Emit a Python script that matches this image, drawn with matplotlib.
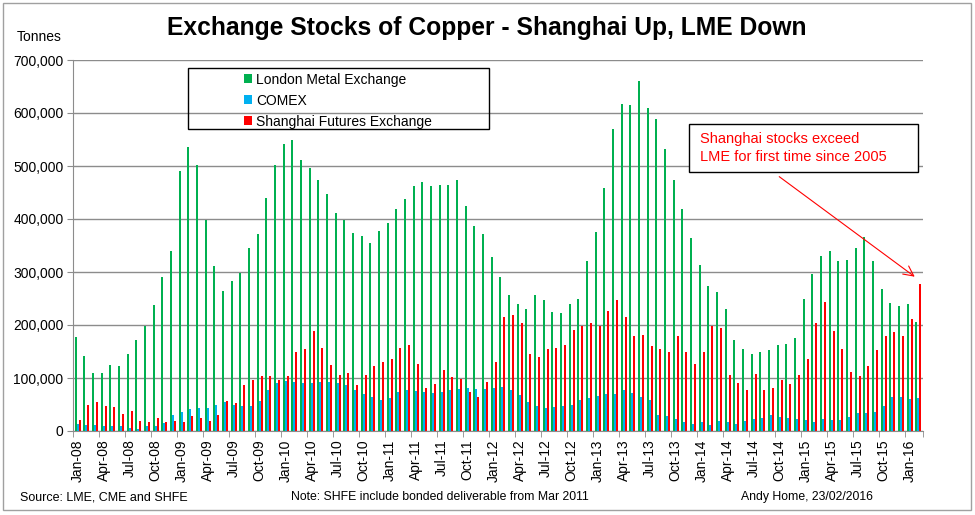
import pandas as pd
import matplotlib
matplotlib.use("Agg")
import matplotlib.pyplot as plt
from matplotlib.patches import Patch, Rectangle

plt.rcParams['font.family'] = ['Liberation Sans', 'DejaVu Sans']

# monthly stocks, thousand tonnes, Jan-08 .. Feb-16
months = pd.date_range('2008-01-01', '2016-02-01', freq='MS')

lme = [177, 141, 110, 110, 124, 122, 145, 172, 199, 237, 290, 339, 490, 535, 501, 398, 311, 265, 283, 299, 345, 371, 440, 501, 542,
       550, 511, 496, 474, 448, 412, 398, 373, 368, 354, 377, 393, 418, 438, 462, 469, 462, 464, 464, 474, 424, 386, 371, 329, 290, 257,
       240, 230, 256, 247, 224, 223, 239, 250, 320, 376, 458, 570, 617, 615, 660, 610, 589, 532, 474, 418, 365, 313, 273, 263, 230,
       171, 154, 145, 149, 152, 162, 164, 176, 249, 296, 330, 339, 320, 322, 346, 366, 320, 267, 242, 235, 239, 205]

comex = [13, 11, 11, 9, 9, 9, 5, 4, 9, 9, 15, 31, 36, 41, 43, 43, 50, 55, 50, 48, 48, 57, 78, 90, 94,
         92, 91, 91, 92, 92, 91, 86, 77, 69, 65, 58, 63, 74, 77, 76, 74, 72, 74, 77, 79, 81, 79, 79, 81, 83, 78,
         68, 55, 47, 44, 45, 47, 50, 58, 63, 66, 69, 69, 77, 72, 65, 58, 31, 28, 23, 17, 14, 17, 11, 19, 17,
         14, 19, 22, 25, 30, 26, 25, 23, 20, 17, 23, 21, 20, 26, 34, 34, 36, 47, 65, 64, 60, 62]

shfe = [20, 50, 55, 47, 45, 32, 38, 18, 17, 25, 17, 18, 17, 29, 25, 18, 31, 57, 52, 87, 97, 104, 103, 96, 103,
        149, 155, 188, 157, 124, 105, 110, 87, 105, 122, 131, 135, 157, 162, 127, 82, 89, 116, 101, 98, 74, 65, 92, 131, 216, 218,
        204, 146, 140, 155, 157, 162, 191, 198, 204, 198, 226, 247, 215, 179, 181, 160, 155, 150, 179, 149, 126, 149, 198, 194, 105,
        91, 78, 108, 78, 81, 96, 88, 105, 136, 204, 243, 188, 155, 111, 103, 122, 152, 180, 186, 179, 211, 277]

series = [
    ('London Metal Exchange', lme, '#00B050'),
    ('COMEX', comex, '#00B0F0'),
    ('Shanghai Futures Exchange', shfe, '#FF0000'),
]

W, H = 975, 515
fig = plt.figure(figsize=(W / 100, H / 100), dpi=100)
ax = fig.add_axes([73.3 / W, 1 - 431 / H, (922.6 - 73.3) / W, (431 - 60) / H])

x = list(range(len(months)))
offsets = [-0.23, 0.0, 0.23]
handles = []
for (name, vals, color), off in zip(series, offsets):
    ax.bar([i + off for i in x], [v * 1000 for v in vals], width=0.23, color=color,
           linewidth=0, antialiased=False)
    handles.append(Patch(facecolor=color, label=name))

ax.set_xlim(-0.5, len(months) - 0.5)
ax.set_ylim(0, 700000)
ax.set_yticks(range(0, 700001, 100000))
ax.set_yticklabels([f'{v:,}' for v in range(0, 700001, 100000)], fontsize=10)
ax.yaxis.grid(True, color='#8c8c8c', linewidth=1)
ax.set_axisbelow(True)

ax.set_xticks(x[::3])
ax.set_xticklabels([m.strftime('%b-%y') for m in months[::3]], rotation=90, fontsize=10)
ax.set_xticks([i - 0.5 for i in x[::3]] + [len(months) - 0.5], minor=True)
ax.tick_params(axis='x', which='major', length=0, pad=6)
ax.tick_params(axis='x', which='minor', length=4, color='#8c8c8c')
ax.tick_params(axis='y', length=4, color='#8c8c8c', pad=3)

for side in ['top', 'right']:
    ax.spines[side].set_visible(False)
for side in ['left', 'bottom']:
    ax.spines[side].set_color('#8c8c8c')

# outer chart border
fig.patches.append(Rectangle((3 / W, 5 / H), 968 / W, 507 / H, transform=fig.transFigure,
                             fill=False, edgecolor='#a0a0a0', linewidth=1))

fig.text(487 / W, 1 - 28 / H, 'Exchange Stocks of Copper - Shanghai Up, LME Down',
         ha='center', va='center', fontsize=17.7, fontweight='bold')
fig.text(39 / W, 1 - 37 / H, 'Tonnes', ha='center', va='center', fontsize=10)

# legend
fig.patches.append(Rectangle((188 / W, 1 - 129 / H), 301 / W, 61 / H, transform=fig.transFigure,
                             fill=False, edgecolor='black', linewidth=1))
fig.legend(handles=handles, loc='upper left', bbox_to_anchor=(234 / W, 1 - 63 / H),
           frameon=False, fontsize=10, handlelength=0.6, handleheight=0.6,
           handletextpad=0.3, labelspacing=0.5, borderpad=0.2)

# annotation
fig.patches.append(Rectangle((689 / W, 1 - 172 / H), 229 / W, 48 / H, transform=fig.transFigure,
                             fill=True, facecolor='white', edgecolor='black', linewidth=1, zorder=5))
fig.text(700 / W, 1 - 139 / H, 'Shanghai stocks exceed', color='#FF0000', fontsize=10.5,
         va='center', zorder=6)
fig.text(700 / W, 1 - 157 / H, 'LME for first time since 2005', color='#FF0000', fontsize=10.5,
         va='center', zorder=6)
ax.annotate('', xy=(len(months) - 1 - 0.15, shfe[-1] * 1000 + 11000), xycoords='data',
            xytext=(777, H - 175), textcoords='figure pixels',
            arrowprops=dict(arrowstyle='->', color='#FF0000', lw=0.8, mutation_scale=18),
            annotation_clip=False)

fig.text(20 / W, 1 - 497 / H, 'Source: LME, CME and SHFE', fontsize=9, va='center')
fig.text(440 / W, 1 - 497 / H, 'Note: SHFE include bonded deliverable from Mar 2011',
         fontsize=8.8, va='center', ha='center')
fig.text(807 / W, 1 - 497 / H, 'Andy Home, 23/02/2016', fontsize=8.8, va='center', ha='center')

fig.savefig('out.png', dpi=100)
